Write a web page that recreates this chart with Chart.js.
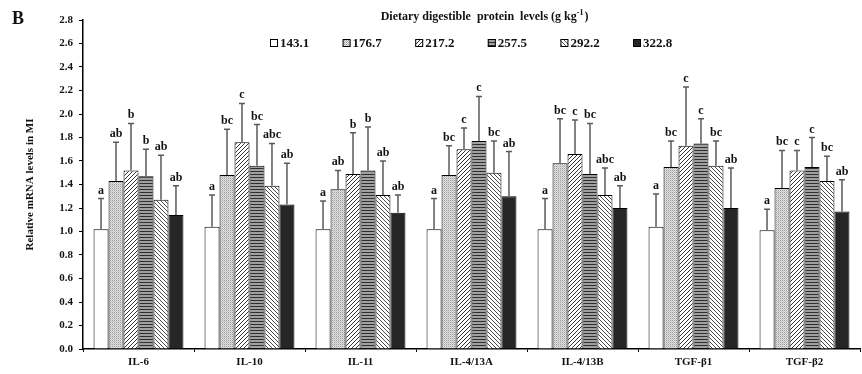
<!DOCTYPE html>
<html>
<head>
<meta charset="utf-8">
<script src="https://cdn.jsdelivr.net/npm/chart.js@4.4.1/dist/chart.umd.min.js"></script>
<style>
  html, body { margin: 0; padding: 0; background: #fff; }
  #wrap { width: 862px; height: 374px; position: relative; }
</style>
</head>
<body>
<div id="wrap"><canvas id="grafico" width="862" height="374"></canvas></div>
<script>
// genes on the x axis
const genes = ['IL-6', 'IL-10', 'IL-11', 'IL-4/13A', 'IL-4/13B', 'TGF-\u03b21', 'TGF-\u03b22'];
// protein levels (series)
const niveles = ['143.1', '176.7', '217.2', '257.5', '292.2', '322.8'];

// mean relative mRNA levels, one array per protein level
const m143 = [1.02, 1.04, 1.02, 1.02, 1.02, 1.04, 1.01];
const m177 = [1.43, 1.48, 1.36, 1.48, 1.58, 1.55, 1.37];
const m217 = [1.52, 1.76, 1.49, 1.70, 1.66, 1.73, 1.52];
const m258 = [1.47, 1.56, 1.52, 1.77, 1.49, 1.75, 1.55];
const m292 = [1.27, 1.39, 1.31, 1.50, 1.31, 1.56, 1.43];
const m323 = [1.14, 1.23, 1.16, 1.30, 1.20, 1.20, 1.17];

// standard deviations (upper error bar)
const sd143 = [0.26, 0.27, 0.24, 0.26, 0.26, 0.28, 0.18];
const sd177 = [0.33, 0.39, 0.16, 0.25, 0.38, 0.22, 0.32];
const sd217 = [0.40, 0.33, 0.35, 0.18, 0.29, 0.50, 0.17];
const sd258 = [0.23, 0.35, 0.37, 0.38, 0.43, 0.21, 0.25];
const sd292 = [0.38, 0.36, 0.29, 0.27, 0.23, 0.21, 0.21];
const sd323 = [0.25, 0.35, 0.15, 0.38, 0.19, 0.34, 0.27];

// significance letters
const l143 = ['a', 'a', 'a', 'a', 'a', 'a', 'a'];
const l177 = ['ab', 'bc', 'ab', 'bc', 'bc', 'bc', 'bc'];
const l217 = ['b', 'c', 'b', 'c', 'c', 'c', 'c'];
const l258 = ['b', 'bc', 'b', 'c', 'bc', 'c', 'c'];
const l292 = ['ab', 'abc', 'ab', 'bc', 'abc', 'bc', 'bc'];
const l323 = ['ab', 'ab', 'ab', 'ab', 'ab', 'ab', 'ab'];

const yTicks = [0, 0.2, 0.4, 0.6, 0.8, 1.0, 1.2, 1.4, 1.6, 1.8, 2.0, 2.2, 2.4, 2.6, 2.8];

const medias = [m143, m177, m217, m258, m292, m323];
const desv = [sd143, sd177, sd217, sd258, sd292, sd323];
const letras = [l143, l177, l217, l258, l292, l323];

const SERIF = '"Liberation Serif", "Times New Roman", serif';

function patron(tipo) {
  const c = document.createElement('canvas');
  const x = c.getContext('2d');
  if (tipo === 'blanco') {
    return '#ffffff';
  }
  if (tipo === 'negro') {
    return '#262626';
  }
  if (tipo === 'puntos') {
    c.width = 2; c.height = 2;
    x.fillStyle = '#e2e2e2'; x.fillRect(0, 0, 2, 2);
    x.fillStyle = '#9a9a9a'; x.fillRect(0, 0, 1, 1);
    x.fillStyle = '#c4c4c4'; x.fillRect(1, 1, 1, 1);
  } else if (tipo === 'diag1') {
    c.width = 4; c.height = 4;
    x.fillStyle = '#ffffff'; x.fillRect(0, 0, 4, 4);
    x.fillStyle = '#333';
    for (let i = 0; i < 4; i++) x.fillRect(3 - i, i, 1, 1);
  } else if (tipo === 'horiz') {
    c.width = 3; c.height = 3;
    x.fillStyle = '#a0a0a0'; x.fillRect(0, 0, 3, 3);
    x.fillStyle = '#303030'; x.fillRect(0, 0, 3, 1);
  } else if (tipo === 'diag2') {
    c.width = 4; c.height = 4;
    x.fillStyle = '#ffffff'; x.fillRect(0, 0, 4, 4);
    x.fillStyle = '#4a4a4a';
    for (let i = 0; i < 4; i++) x.fillRect(i, i, 1, 1);
  }
  return x.createPattern(c, 'repeat');
}

const rellenos = [patron('blanco'), patron('puntos'), patron('diag1'), patron('horiz'), patron('diag2'), patron('negro')];

const pluginErrores = {
  id: 'errores',
  afterDatasetsDraw(chart) {
    const ctx = chart.ctx;
    const ys = chart.scales.y;
    ctx.save();
    chart.data.datasets.forEach((ds, i) => {
      const meta = chart.getDatasetMeta(i);
      meta.data.forEach((bar, j) => {
        const top = ys.getPixelForValue(medias[i][j] + desv[i][j]);
        ctx.strokeStyle = '#5a5a5a';
        ctx.lineWidth = 1.5;
        ctx.beginPath();
        ctx.moveTo(bar.x, bar.y);
        ctx.lineTo(bar.x, top);
        ctx.moveTo(bar.x - 3, top);
        ctx.lineTo(bar.x + 3, top);
        ctx.stroke();
        ctx.fillStyle = '#111';
        ctx.font = 'bold 12px ' + SERIF;
        ctx.textAlign = 'center';
        ctx.textBaseline = 'alphabetic';
        ctx.fillText(letras[i][j], bar.x, top - 5);
      });
    });
    ctx.restore();
  }
};

const pluginLeyenda = {
  id: 'leyenda',
  afterDraw(chart) {
    const ctx = chart.ctx;
    ctx.save();
    // title
    ctx.fillStyle = '#111';
    ctx.font = 'bold 12px ' + SERIF;
    ctx.textBaseline = 'middle';
    ctx.textAlign = 'left';
    const t1 = 'Dietary digestible  protein  levels (g kg';
    const w1 = ctx.measureText(t1).width;
    ctx.font = 'bold 8px ' + SERIF;
    const w2 = ctx.measureText('-1').width;
    ctx.font = 'bold 12px ' + SERIF;
    const w3 = ctx.measureText(')').width;
    let x0 = 484 - (w1 + w2 + w3) / 2;
    ctx.fillText(t1, x0, 17);
    ctx.font = 'bold 8px ' + SERIF;
    ctx.fillText('-1', x0 + w1, 13);
    ctx.font = 'bold 12px ' + SERIF;
    ctx.fillText(')', x0 + w1 + w2 + 1, 17);
    // items
    ctx.font = 'bold 13px ' + SERIF;
    chart.data.datasets.forEach((ds, i) => {
      const bx = 270 + i * 72.6;
      ctx.fillStyle = ds.backgroundColor;
      ctx.fillRect(bx, 39, 8, 8);
      ctx.strokeStyle = '#000';
      ctx.lineWidth = 1;
      ctx.strokeRect(bx + 0.5, 39.5, 7, 7);
      ctx.fillStyle = '#111';
      ctx.fillText(ds.label, bx + 10, 43.5);
    });
    // panel letter
    ctx.font = 'bold 18px ' + SERIF;
    ctx.fillText('B', 12, 19);
    ctx.restore();
  }
};

const ctx = document.getElementById('grafico').getContext('2d');
new Chart(ctx, {
  type: 'bar',
  data: {
    labels: genes,
    datasets: niveles.map((n, i) => ({
      label: n,
      data: medias[i],
      backgroundColor: rellenos[i],
      borderColor: '#000',
      borderWidth: 1,
      borderSkipped: 'bottom',
      categoryPercentage: 0.81,
      barPercentage: 1.0
    }))
  },
  options: {
    responsive: false,
    animation: false,
    devicePixelRatio: 1,
    layout: { padding: { top: 20, right: 2, left: 0, bottom: 0 } },
    plugins: {
      legend: { display: false },
      tooltip: { enabled: false }
    },
    scales: {
      x: {
        afterFit(s) { s.height = 25; },
        grid: { display: true, offset: true, drawOnChartArea: false, drawTicks: true, tickLength: 3, color: '#000', lineWidth: 1 },
        border: { display: true, color: '#000', width: 1.5 },
        ticks: { color: '#111', font: { family: SERIF, size: 11, weight: 'bold' }, padding: 4 }
      },
      y: {
        min: 0,
        max: 2.8,
        afterFit(s) { s.width = 83; },
        afterBuildTicks(s) { s.ticks = yTicks.map(v => ({ value: v })); },
        title: {
          display: true,
          text: 'Relative mRNA levels in MI',
          color: '#111',
          font: { family: SERIF, size: 11, weight: 'bold' },
          padding: { top: 24, bottom: 4 }
        },
        grid: { display: true, drawOnChartArea: false, drawTicks: true, tickLength: 4, color: '#000', lineWidth: 1 },
        border: { display: true, color: '#000', width: 1.5 },
        ticks: {
          color: '#111',
          padding: 6,
          font: { family: SERIF, size: 11, weight: 'bold' },
          callback: v => Number(v).toFixed(1)
        }
      }
    }
  },
  plugins: [pluginErrores, pluginLeyenda]
});
</script>
</body>
</html>
